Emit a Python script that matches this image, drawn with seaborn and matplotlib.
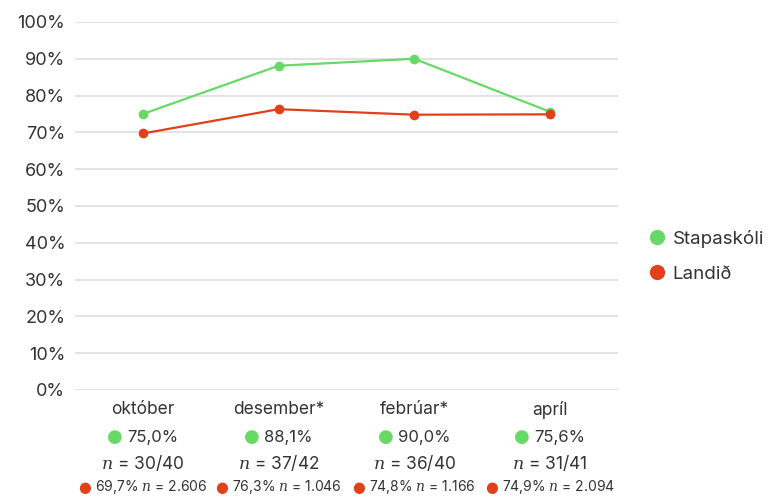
import matplotlib
matplotlib.use("Agg")
from matplotlib import pyplot as plt
from matplotlib.lines import Line2D
from matplotlib.offsetbox import TextArea, HPacker, AnnotationBbox
from matplotlib.ticker import FuncFormatter
import seaborn as sns
import pandas as pd

months = ["október", "desember*", "febrúar*", "apríl"]
school = [75.0, 88.1, 90.0, 75.6]
country = [69.7, 76.3, 74.8, 74.9]
school_n = ["30/40", "37/42", "36/40", "31/41"]
country_n = ["2.606", "1.046", "1.166", "2.094"]
series_names = ["Stapaskóli", "Landið"]

green = "#66d966"
red = "#e0401a"
text_color = "#333333"

sns.set_style("white")
plt.rcParams["font.family"] = ["Inter", "DejaVu Sans"]
plt.rcParams["mathtext.fontset"] = "dejavuserif"

df = pd.DataFrame({
    "month": months * 2,
    "value": school + country,
    "series": [series_names[0]] * 4 + [series_names[1]] * 4,
})

fig = plt.figure(figsize=(7.71, 4.98), dpi=100)
ax = fig.add_axes([0.0973, 0.2169, 0.704, 0.739])

sns.lineplot(
    data=df, x="month", y="value", hue="series", sort=False,
    palette=[green, red], marker="o", markersize=7, markeredgewidth=0,
    linewidth=1.6, legend=False, ax=ax,
)

ax.set_ylim(0, 100)
ax.set_xlim(-0.5, 3.5)
ax.set_yticks(range(0, 101, 10))
ax.yaxis.set_major_formatter(FuncFormatter(lambda v, p: f"{int(v)}%"))
ax.set_xlabel("")
ax.set_ylabel("")
for s in ax.spines.values():
    s.set_visible(False)
ax.grid(axis="y", color="#dedede", linewidth=1.2)
ax.grid(axis="x", visible=False)
ax.set_axisbelow(True)
ax.tick_params(axis="y", length=0, pad=7, labelsize=13, labelcolor=text_color)
ax.tick_params(axis="x", length=0, pad=8, labelsize=12.5, labelcolor=text_color)

trans = ax.get_xaxis_transform()
for i in range(len(months)):
    row1 = HPacker(children=[
        TextArea("●", textprops=dict(color=green, fontsize=13, family=["DejaVu Sans"])),
        TextArea(f"{school[i]:.1f}%".replace(".", ","),
                 textprops=dict(color=text_color, fontsize=12)),
    ], pad=0, sep=3, align="center")
    ab = AnnotationBbox(row1, (i, -0.128), xycoords=trans, frameon=False,
                        box_alignment=(0.5, 0.5), annotation_clip=False)
    ax.add_artist(ab)

    ax.text(i, -0.198, f"$n$ = {school_n[i]}", transform=trans, ha="center",
            va="center", fontsize=12.5, color=text_color)

    row3 = HPacker(children=[
        TextArea("●", textprops=dict(color=red, fontsize=10.5, family=["DejaVu Sans"])),
        TextArea(f"{country[i]:.1f}%".replace(".", ",") + f" $n$ = {country_n[i]}",
                 textprops=dict(color=text_color, fontsize=10)),
    ], pad=0, sep=3, align="center")
    ab = AnnotationBbox(row3, (i, -0.264), xycoords=trans, frameon=False,
                        box_alignment=(0.5, 0.5), annotation_clip=False)
    ax.add_artist(ab)

handles = [Line2D([], [], marker="o", linestyle="", color=c, markersize=11,
                  markeredgewidth=0) for c in (green, red)]
fig.legend(handles, series_names, loc="center left",
           bbox_to_anchor=(0.83, 0.485), frameon=False, fontsize=13.5,
           handletextpad=0.35, labelspacing=0.95, labelcolor=text_color,
           handlelength=1.0, borderaxespad=0)

fig.savefig("out.png", dpi=100)
